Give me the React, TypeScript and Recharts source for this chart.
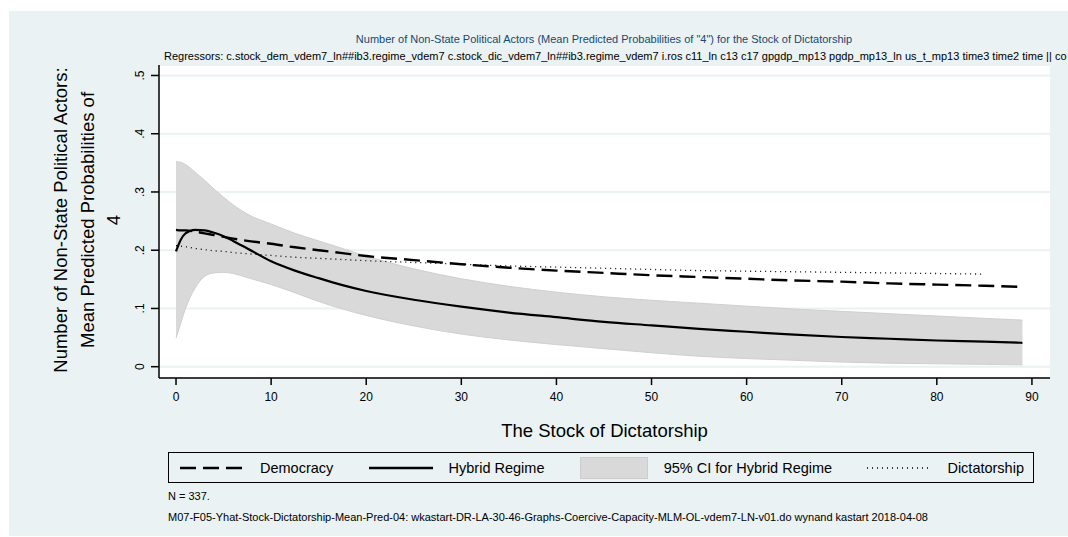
import { ComposedChart, Line, Area, XAxis, YAxis, CartesianGrid } from 'recharts';

const stock = [0, 0.5, 1, 2, 3, 4, 5, 6, 7.5, 10, 12.5, 15, 17.5, 20, 25, 30, 35, 40, 45, 50, 55, 60, 65, 70, 75, 80, 85, 89];

const democracy = [0.235, 0.234, 0.234, 0.232, 0.229, 0.226, 0.223, 0.220, 0.216, 0.211, 0.205, 0.200, 0.195, 0.190, 0.183, 0.176, 0.170, 0.165, 0.161, 0.157, 0.154, 0.151, 0.148, 0.146, 0.143, 0.141, 0.139, 0.137];
const hybrid = [0.198, 0.218, 0.229, 0.235, 0.234, 0.230, 0.224, 0.216, 0.203, 0.181, 0.165, 0.152, 0.140, 0.130, 0.115, 0.103, 0.093, 0.085, 0.077, 0.071, 0.065, 0.060, 0.055, 0.051, 0.048, 0.045, 0.043, 0.041];
const ciUpper = [0.352, 0.351, 0.347, 0.334, 0.320, 0.305, 0.291, 0.278, 0.262, 0.245, 0.229, 0.216, 0.203, 0.190, 0.168, 0.151, 0.138, 0.128, 0.120, 0.114, 0.109, 0.104, 0.099, 0.095, 0.091, 0.087, 0.083, 0.080];
const ciLower = [0.049, 0.075, 0.100, 0.135, 0.155, 0.161, 0.162, 0.160, 0.153, 0.141, 0.127, 0.112, 0.099, 0.088, 0.070, 0.056, 0.046, 0.038, 0.031, 0.024, 0.018, 0.014, 0.011, 0.008, 0.006, 0.005, 0.004, 0.003];
const dictatorship = [0.208, 0.207, 0.206, 0.203, 0.201, 0.199, 0.198, 0.196, 0.194, 0.191, 0.188, 0.186, 0.184, 0.182, 0.179, 0.176, 0.173, 0.171, 0.169, 0.167, 0.165, 0.164, 0.163, 0.162, 0.161, 0.160, 0.159, null];

const xTicks = [0, 10, 20, 30, 40, 50, 60, 70, 80, 90];
const yTicks = [0, 0.1, 0.2, 0.3, 0.4, 0.5];

const title = 'Number of Non-State Political Actors (Mean Predicted Probabilities of "4") for the Stock of Dictatorship';
const subtitle = 'Regressors: c.stock_dem_vdem7_ln##ib3.regime_vdem7 c.stock_dic_vdem7_ln##ib3.regime_vdem7 i.ros c11_ln c13 c17 gpgdp_mp13 pgdp_mp13_ln us_t_mp13 time3 time2 time || co';
const yTitle = ['Number of Non-State Political Actors:', 'Mean Predicted Probabilities of', '4'];
const xTitle = 'The Stock of Dictatorship';
const note1 = 'N = 337.';
const note2 = 'M07-F05-Yhat-Stock-Dictatorship-Mean-Pred-04: wkastart-DR-LA-30-46-Graphs-Coercive-Capacity-MLM-OL-vdem7-LN-v01.do wynand kastart 2018-04-08';

const legendItems = [
    { name: 'Democracy', kind: 'dash' },
    { name: 'Hybrid Regime', kind: 'solid' },
    { name: '95% CI for Hybrid Regime', kind: 'area' },
    { name: 'Dictatorship', kind: 'dot' },
];

const BG = '#EAF2F3';
const FONT = '"Liberation Sans", Arial, Helvetica, sans-serif';

const data = stock.map((s, i) => ({
    x: s,
    democracy: democracy[i],
    hybrid: hybrid[i],
    ci: [ciLower[i], ciUpper[i]],
    dictatorship: dictatorship[i],
}));

const fmtY = (v: number) => (v === 0 ? '0' : '.' + Math.round(v * 10));

const YTick = (props: any) => {
    const { y, payload } = props;
    return (
        <text transform={`translate(131,${y}) rotate(-90)`} textAnchor="middle" dy="0.35em" fontSize={12} fill="#000" fontFamily={FONT}>
            {fmtY(payload.value)}
        </text>
    );
};

const XTick = (props: any) => {
    const { x, payload } = props;
    return (
        <text x={x} y={386} textAnchor="middle" dy="0.35em" fontSize={12} fill="#000" fontFamily={FONT}>
            {payload.value}
        </text>
    );
};

function LegendKey({ kind }: { kind: string }) {
    if (kind === 'area') {
        return <div style={{ width: 68, height: 22, background: '#D9D9D9', border: '1px solid #CCCCCC', boxSizing: 'border-box' }} />;
    }
    const dash = kind === 'dash' ? '16 7' : kind === 'dot' ? '1 4' : undefined;
    const w = kind === 'dot' ? 1.3 : 2.4;
    return (
        <svg width={64} height={10}>
            <line x1={0} y1={5} x2={64} y2={5} stroke="#000" strokeWidth={w} strokeDasharray={dash} />
        </svg>
    );
}

export default function App() {
    return (
        <div style={{ position: 'absolute', left: 9, top: 11, width: 1059, height: 525, background: BG, overflow: 'hidden', fontFamily: FONT }}>
            <div style={{ position: 'absolute', left: 0, width: 1190, top: 21, textAlign: 'center', fontSize: 11, color: '#1A476F', lineHeight: '14px', whiteSpace: 'nowrap' }}>
                {title}
            </div>
            <div style={{ position: 'absolute', left: 155, top: 38, fontSize: 11, color: '#000', lineHeight: '14px', whiteSpace: 'nowrap' }}>
                {subtitle}
            </div>

            <div style={{ position: 'absolute', left: 0, top: 0 }}>
                <ComposedChart width={1059} height={400} data={data} margin={{ top: 54, right: 18, bottom: 3, left: 0 }}>
                    <CartesianGrid vertical={false} stroke={BG} strokeWidth={2} fill="#FFFFFF" />
                    <XAxis
                        dataKey="x"
                        type="number"
                        domain={[-1.79, 91.9]}
                        ticks={xTicks}
                        allowDataOverflow
                        height={30}
                        tickSize={7}
                        axisLine={{ stroke: '#000', strokeWidth: 1.5 }}
                        tickLine={{ stroke: '#000', strokeWidth: 1.5 }}
                        tick={XTick}
                    />
                    <YAxis
                        type="number"
                        domain={[-0.0194, 0.518]}
                        ticks={yTicks}
                        allowDataOverflow
                        width={150}
                        tickSize={8}
                        axisLine={{ stroke: '#000', strokeWidth: 1.5 }}
                        tickLine={{ stroke: '#000', strokeWidth: 1.5 }}
                        tick={YTick}
                    />
                    <Area dataKey="ci" type="monotone" fill="#D9D9D9" fillOpacity={1} stroke="#CFCFCF" strokeWidth={1} isAnimationActive={false} dot={false} activeDot={false} />
                    <Line dataKey="democracy" type="monotone" stroke="#000" strokeWidth={2.4} strokeDasharray="16 7" dot={false} activeDot={false} isAnimationActive={false} />
                    <Line dataKey="dictatorship" type="monotone" stroke="#000" strokeWidth={1.3} strokeDasharray="1 4" dot={false} activeDot={false} isAnimationActive={false} />
                    <Line dataKey="hybrid" type="monotone" stroke="#000" strokeWidth={2.2} dot={false} activeDot={false} isAnimationActive={false} />
                </ComposedChart>
            </div>

            <div style={{ position: 'absolute', left: 79, top: 209, width: 0, height: 0 }}>
                <div style={{ position: 'absolute', left: -180, top: -40, width: 360, height: 80, transform: 'rotate(-90deg)', transformOrigin: '180px 40px', textAlign: 'center', fontSize: 18.5, lineHeight: '26.5px', color: '#000', whiteSpace: 'nowrap' }}>
                    {yTitle.map((t, i) => (
                        <div key={i}>{t}</div>
                    ))}
                </div>
            </div>

            <div style={{ position: 'absolute', left: 150, width: 891, top: 409, textAlign: 'center', fontSize: 18.5, lineHeight: '22px', color: '#000' }}>
                {xTitle}
            </div>

            <div style={{ position: 'absolute', left: 159, top: 441, width: 866, height: 31, border: '1.5px solid #000', boxSizing: 'border-box', display: 'flex', alignItems: 'center', justifyContent: 'space-between', padding: '0 9px 0 11px' }}>
                {legendItems.map((item) => (
                    <div key={item.name} style={{ display: 'flex', alignItems: 'center', gap: 16 }}>
                        <LegendKey kind={item.kind} />
                        <span style={{ fontSize: 14.5, color: '#000' }}>{item.name}</span>
                    </div>
                ))}
            </div>

            <div style={{ position: 'absolute', left: 159, top: 478, fontSize: 11, lineHeight: '14px', color: '#000', whiteSpace: 'nowrap' }}>{note1}</div>
            <div style={{ position: 'absolute', left: 159, top: 499, fontSize: 11, lineHeight: '14px', color: '#000', whiteSpace: 'nowrap' }}>{note2}</div>
        </div>
    );
}
